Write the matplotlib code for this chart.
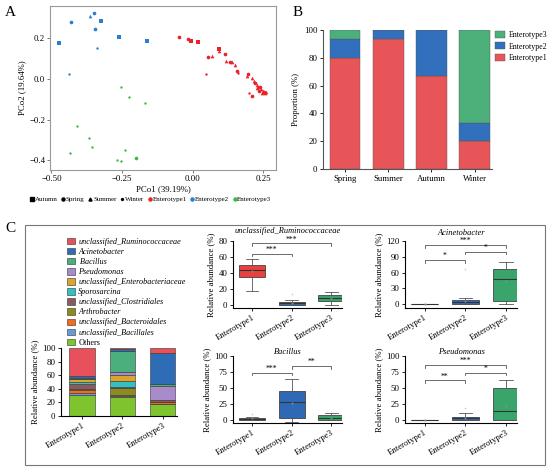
import numpy as np
import matplotlib
matplotlib.use("Agg")
import matplotlib.pyplot as plt
from matplotlib.lines import Line2D
from matplotlib.patches import Rectangle

plt.rcParams['font.family'] = ['Liberation Serif', 'DejaVu Serif']
plt.rcParams['font.size'] = 6.3

RED = "#E85558"
BLUE = "#3270BE"
GREEN = "#4DB07A"
FS = 6.3

# ---------------- panel A data (PCoA) ----------------
pc1 = [-0.472, -0.431, -0.364, -0.349, -0.323, -0.347, -0.261, -0.163, -0.337, -0.437,
       -0.252, -0.225, -0.170, -0.410, -0.366, -0.358, -0.433, -0.241, -0.269, -0.255, -0.202,
       -0.047, -0.018, -0.005, 0.020, 0.048, 0.053, 0.067, 0.092, 0.092, 0.113, 0.117, 0.133,
       0.141, 0.151, 0.158, 0.161, 0.191, 0.197, 0.198, 0.211, 0.211, 0.217, 0.222, 0.229,
       0.232, 0.238, 0.242, 0.248, 0.251, 0.256, 0.245, 0.236, 0.226, 0.253, 0.258]
pc2 = [0.175, 0.282, 0.311, 0.323, 0.287, 0.248, 0.205, 0.189, 0.151, 0.025,
       -0.038, -0.090, -0.116, -0.231, -0.292, -0.333, -0.362, -0.349, -0.398, -0.405, -0.389,
       0.208, 0.195, 0.187, 0.182, 0.023, 0.107, 0.115, 0.146, 0.139, 0.123, 0.089, 0.082,
       0.084, 0.069, 0.041, 0.028, 0.015, 0.025, -0.067, -0.084, 0.003, -0.008, -0.021, -0.030,
       -0.041, -0.041, -0.051, -0.057, -0.062, -0.067, -0.067, -0.059, -0.045, -0.070, -0.066]
group = [2] * 10 + [3] * 11 + [1] * 35
season = (['Autumn', 'Spring', 'Summer', 'Spring', 'Autumn', 'Spring', 'Autumn', 'Autumn', 'Winter', 'Winter']
          + ['Winter'] * 10 + ['Spring']
          + ['Spring', 'Spring', 'Autumn', 'Autumn', 'Winter', 'Spring', 'Summer', 'Autumn', 'Summer',
             'Spring', 'Summer', 'Spring', 'Summer', 'Summer', 'Spring', 'Winter', 'Summer', 'Spring',
             'Winter', 'Spring', 'Summer', 'Summer', 'Spring', 'Summer', 'Summer', 'Spring', 'Summer',
             'Summer', 'Spring', 'Summer', 'Summer', 'Spring', 'Summer', 'Winter', 'Summer'])

# ---------------- panel B data ----------------
seasons = ['Spring', 'Summer', 'Autumn', 'Winter']
prop_e1 = [80.0, 93.3, 66.7, 20.0]
prop_e2 = [13.3, 6.7, 33.3, 13.3]
prop_e3 = [6.7, 0.0, 0.0, 66.7]

# ---------------- panel C data ----------------
enterotypes = ['Enterotype1', 'Enterotype2', 'Enterotype3']
taxa = ['Others', 'unclassified_Bacillales', 'unclassified_Bacteroidales', 'Arthrobacter',
        'unclassified_Clostridiales', 'Sporosarcina', 'unclassified_Enterobacteriaceae',
        'Pseudomonas', 'Bacillus', 'Acinetobacter', 'unclassified_Ruminococcaceae']
taxa_labels = ['Others', 'unclassified_Bacillales', 'unclassified_Bacteroidales', 'Arthrobacter',
               'unclassified_Clostridiales', 'Sporosarcina', 'unclassified_Enterobacteriaceae',
               'Pseudomonas', ' Bacillus', 'Acinetobacter', 'unclassified_Ruminococcaceae']
abund = {
    'Others': [31.0, 27.6, 17.0],
    'unclassified_Bacillales': [3.5, 2.4, 1.0],
    'unclassified_Bacteroidales': [3.9, 1.0, 2.0],
    'Arthrobacter': [1.6, 10.0, 1.0],
    'unclassified_Clostridiales': [7.0, 1.0, 2.0],
    'Sporosarcina': [2.5, 10.0, 0.5],
    'unclassified_Enterobacteriaceae': [4.5, 8.0, 0.5],
    'Pseudomonas': [1.0, 4.0, 19.4],
    'Bacillus': [1.5, 31.0, 3.6],
    'Acinetobacter': [2.5, 3.5, 45.6],
    'unclassified_Ruminococcaceae': [41.0, 1.5, 7.4],
}
taxa_colors = ['#7DC42F', '#6B9BD6', '#F26B1D', '#8C8C1E', '#8A5A5E', '#33BFC4',
               '#D9A52A', '#A88BCB', '#4BAE7D', '#2E6DB5', '#E8505B']

# box plot summaries: (whislo, q1, med, q3, whishi, mean, fliers)
box_titles = ['unclassified_Ruminococcaceae', 'Acinetobacter', 'Bacillus', 'Pseudomonas']
box_stats = {
    'unclassified_Ruminococcaceae': [(17, 35, 44, 50, 58, 43, []), (0, 0, 2, 4, 6, 2.5, [14]),
                                     (0, 5, 8, 12, 16, 8.5, [])],
    'Acinetobacter': [(0, 0, 0, 0, 0, 0, []), (0, 0, 3, 7, 11, 5, [67]),
                      (0, 5, 48, 66, 80, 43, [])],
    'Bacillus': [(0, 0, 2, 4, 6, 3, [10]), (-2, 3, 28, 45, 64, 27, []),
                 (0, 0, 3, 8, 12, 4, [])],
    'Pseudomonas': [(0, 0, 0, 0, 0, 0, []), (0, 0, 3, 6, 11, 4, [20]),
                    (0, 0, 15, 50, 62, 22, [])],
}
# significance brackets: (group a, group b, height, label)
sig_marks = {
    'unclassified_Ruminococcaceae': [(1, 2, 64, '***'), (1, 3, 77, '***')],
    'Acinetobacter': [(1, 2, 84, '*'), (2, 3, 100, '*'), (1, 3, 112, '***')],
    'Bacillus': [(1, 2, 74, '***'), (2, 3, 84, '**')],
    'Pseudomonas': [(1, 2, 62, '**'), (2, 3, 74, '*'), (1, 3, 86, '***')],
}
box_ylim = {'unclassified_Ruminococcaceae': (-4, 80), 'Acinetobacter': (-7.6, 120),
            'Bacillus': (-4, 100), 'Pseudomonas': (-4, 100)}
box_ticks = {'unclassified_Ruminococcaceae': [0, 20, 40, 60, 80], 'Acinetobacter': [0, 30, 60, 90, 120],
             'Bacillus': [0, 25, 50, 75, 100], 'Pseudomonas': [0, 25, 50, 75, 100]}
box_colors = ['#E8413F', '#2F69B5', '#3AA56B']

W, H = 550, 470
fig = plt.figure(figsize=(5.5, 4.7), dpi=100)


def px_axes(x0, y0, x1, y1):
    return fig.add_axes([x0 / W, 1 - y1 / H, (x1 - x0) / W, (y1 - y0) / H])


# ---------------- A ----------------
axA = px_axes(50, 6, 276, 170)
gcol = {1: '#E8242A', 2: '#2A7FD0', 3: '#3DBB4A'}
smark = {'Autumn': ('s', 8), 'Spring': ('o', 7), 'Summer': ('^', 7), 'Winter': ('o', 3)}
for x, y, g, s in zip(pc1, pc2, group, season):
    m, sz = smark[s]
    axA.scatter(x, y, marker=m, s=sz, color=gcol[g], linewidths=0)
axA.set_xlim(-0.505, 0.295)
axA.set_ylim(-0.448, 0.359)
axA.set_xticks([-0.50, -0.25, 0.00, 0.25])
axA.set_xticklabels(['\u22120.50', '\u22120.25', '0.00', '0.25'])
axA.set_yticks([-0.4, -0.2, 0.0, 0.2])
axA.set_yticklabels(['\u22120.4', '\u22120.2', '0.0', '0.2'])
for sp in axA.spines.values():
    sp.set_color('#999999')
axA.tick_params(length=2, width=0.6, color='#666666', labelsize=FS, pad=1.5)
axA.set_xlabel('PCo1 (39.19%)', fontsize=FS, labelpad=2)
axA.set_ylabel('PCo2 (19.64%)', fontsize=FS, labelpad=2)

hA = [Line2D([], [], ls='', marker='s', ms=2.2, color='k'),
      Line2D([], [], ls='', marker='o', ms=2.2, color='k'),
      Line2D([], [], ls='', marker='^', ms=2.2, color='k'),
      Line2D([], [], ls='', marker='o', ms=1.4, color='k'),
      Line2D([], [], ls='', marker='o', ms=2.2, color=gcol[1]),
      Line2D([], [], ls='', marker='o', ms=2.2, color=gcol[2]),
      Line2D([], [], ls='', marker='o', ms=2.2, color=gcol[3])]
lA = ['Autumn', 'Spring', 'Summer', 'Winter', 'Enterotype1', 'Enterotype2', 'Enterotype3']
fig.legend(hA, lA, loc='center', bbox_to_anchor=(151 / W, 1 - 199 / H), ncol=7, frameon=False,
           fontsize=5.0, handlelength=0.4, handletextpad=0.2, columnspacing=0.6, borderpad=0)
fig.text(5 / W, 1 - 12 / H, 'A', fontsize=11, va='center')

# ---------------- B ----------------
axB = px_axes(323, 30, 492, 169)
xb = np.arange(len(seasons))
ec = '#555555'
axB.bar(xb, prop_e1, width=0.71, color=RED, edgecolor=ec, linewidth=0.3, label='Enterotype1')
axB.bar(xb, prop_e2, width=0.71, bottom=prop_e1, color=BLUE, edgecolor=ec, linewidth=0.3, label='Enterotype2')
axB.bar(xb, prop_e3, width=0.71, bottom=np.add(prop_e1, prop_e2), color=GREEN, edgecolor=ec,
        linewidth=0.3, label='Enterotype3')
axB.set_xlim(-0.51, 3.4)
axB.set_ylim(0, 100)
axB.set_xticks(xb)
axB.set_xticklabels(seasons)
axB.set_yticks([0, 20, 40, 60, 80, 100])
axB.spines['top'].set_visible(False)
axB.spines['right'].set_visible(False)
axB.spines['left'].set_color('#555555')
axB.spines['bottom'].set_color('#555555')
axB.tick_params(length=2.5, width=0.6, labelsize=FS, pad=1.5)
axB.set_ylabel('Proportion (%)', fontsize=FS, labelpad=3)
hb, lb = axB.get_legend_handles_labels()
axB.legend(hb[::-1], lb[::-1], loc='upper left', bbox_to_anchor=(0.99, 1.03), frameon=False,
           fontsize=5.7, handlelength=1.2, handleheight=1.0, handletextpad=0.5, labelspacing=0.45,
           borderaxespad=0.2)
fig.text(293 / W, 1 - 12 / H, 'B', fontsize=11, va='center')

# ---------------- C ----------------
fig.patches.append(Rectangle((25 / W, 1 - 465 / H), 520 / W, 240 / H, transform=fig.transFigure,
                             fill=False, edgecolor='#777777', linewidth=0.8))
fig.text(5 / W, 1 - 228 / H, 'C', fontsize=11, va='center')

axS = px_axes(61, 348, 177, 416)
xs = np.arange(len(enterotypes))
bottom = np.zeros(len(enterotypes))
for t, lab, c in zip(taxa, taxa_labels, taxa_colors):
    axS.bar(xs, abund[t], width=0.62, bottom=bottom, color=c, edgecolor='#333333', linewidth=0.4, label=lab)
    bottom = bottom + np.array(abund[t])
axS.set_xlim(-0.52, 2.35)
axS.set_ylim(0, 100)
axS.set_yticks([0, 20, 40, 60, 80, 100])
axS.set_xticks(xs)
axS.set_xticklabels(enterotypes, rotation=30, ha='right', rotation_mode='anchor')
axS.spines['top'].set_visible(False)
axS.spines['right'].set_visible(False)
axS.tick_params(length=2.5, width=0.6, labelsize=FS, pad=1.5)
axS.set_ylabel('Relative abundance (%)', fontsize=FS, labelpad=2)
hs, ls_ = axS.get_legend_handles_labels()
leg = fig.legend(hs[::-1], ls_[::-1], loc='upper left', bbox_to_anchor=(63 / W, 1 - 234 / H),
                 frameon=False, fontsize=5.9, handlelength=0.95, handleheight=0.8, handletextpad=0.4,
                 labelspacing=0.25, borderpad=0)
for txt in leg.get_texts():
    if txt.get_text() != 'Others':
        txt.set_style('italic')

box_pos = {'unclassified_Ruminococcaceae': (233, 241, 342, 308),
           'Acinetobacter': (405, 241, 517, 308),
           'Bacillus': (233, 356, 342, 423),
           'Pseudomonas': (405, 356, 517, 423)}
title_pad = {'unclassified_Ruminococcaceae': 5.5, 'Acinetobacter': 4.0, 'Bacillus': -1.5, 'Pseudomonas': -1.5}
for name in box_titles:
    ax = px_axes(*box_pos[name])
    stats = []
    for lo, q1, med, q3, hi, mean, fl in box_stats[name]:
        stats.append(dict(whislo=lo, q1=q1, med=med, q3=q3, whishi=hi, mean=mean, fliers=fl))
    bp = ax.bxp(stats, positions=[1, 2, 3], widths=0.65, patch_artist=True, showmeans=True,
                boxprops=dict(edgecolor='#444444', linewidth=0.6),
                medianprops=dict(color='#333333', linewidth=0.8),
                whiskerprops=dict(color='#555555', linewidth=0.6),
                capprops=dict(color='#555555', linewidth=0.6),
                meanprops=dict(marker='o', markersize=1.5, markerfacecolor='#888888',
                               markeredgecolor='none'),
                flierprops=dict(marker='o', markersize=1.2, markerfacecolor='#cccccc',
                                markeredgecolor='none'))
    for patch, c in zip(bp['boxes'], box_colors):
        patch.set_facecolor(c)
    ylo, yhi = box_ylim[name]
    ax.set_ylim(ylo, yhi)
    ax.set_xlim(0.52, 3.27)
    ax.set_yticks(box_ticks[name])
    ax.set_xticks([1, 2, 3])
    ax.set_xticklabels(enterotypes, rotation=30, ha='right', rotation_mode='anchor')
    ax.spines['top'].set_visible(False)
    ax.spines['right'].set_visible(False)
    ax.spines['left'].set_bounds(ylo, yhi)
    ax.tick_params(length=2.5, width=0.6, labelsize=FS, pad=1.5)
    ax.set_ylabel('Relative abundance (%)', fontsize=FS, labelpad=2)
    ax.set_title(name, fontsize=6.0, style='italic', pad=title_pad[name])
    drop = (yhi - ylo) * 0.04
    for a, b, h, lab in sig_marks[name]:
        ax.plot([a, a, b, b], [h - drop, h, h, h - drop], color='#555555', linewidth=0.6, clip_on=False)
        ax.text((a + b) / 2, h, lab, ha='center', va='bottom', fontsize=5.5, clip_on=False)

fig.savefig('out.png', dpi=100)
